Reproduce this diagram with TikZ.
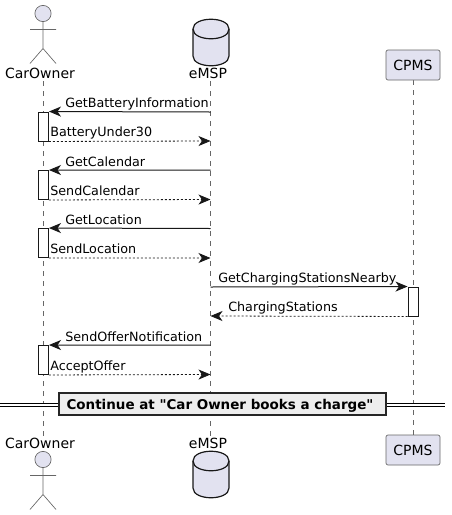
\documentclass[tikz,border=0pt]{standalone}
\usepackage{fontspec}
\usepackage{tikz}
\setmainfont{DejaVu Sans}
\newfontfamily\divfont{DejaVu Sans}
\usetikzlibrary{arrows.meta,shapes.geometric}
\definecolor{partfill}{HTML}{E2E2F0}
\definecolor{partline}{HTML}{181818}
\definecolor{lifeline}{HTML}{666666}
\definecolor{divfill}{HTML}{EEEEEE}
\tikzset{
	head node/.style={font=\fontsize{10.5pt}{12pt}\selectfont,inner sep=0pt,text=black},
	box node/.style={draw=lifeline,fill=partfill,rounded corners=1.5pt,line width=.5pt,minimum width=40.5pt,minimum height=22.5pt,inner sep=0pt,font=\fontsize{10.5pt}{12pt}\selectfont},
	act node/.style={draw=partline,fill=white,line width=.7pt,minimum width=7.5pt,inner sep=0pt},
	msg/.style={draw=partline,line width=.75pt,-{Stealth[length=9pt,width=7.5pt,inset=2.6pt]}},
	ret/.style={msg,line width=.6pt,dash pattern=on 1.5pt off 1.5pt},
	msg label/.style={font=\fontsize{9.55pt}{11pt}\selectfont,inner sep=0pt,anchor=base west,text=black},
	life/.style={draw=lifeline,line width=.4pt,dash pattern=on 3.75pt off 3.75pt},
}
\newcommand{\stickman}[2]{% x, head y
	\draw[draw=lifeline,fill=partfill,line width=.5pt] (#1,#2) circle (6.1pt);
	\draw[draw=lifeline,line width=.5pt] (#1,#2+8) -- (#1,#2+35)
	(#1-13,#2+16) -- (#1+13,#2+16)
	(#1-13,#2+50) -- (#1,#2+35) -- (#1+13,#2+50);
}
\newcommand{\dbcan}[2]{% x, top y
	\draw[draw=partline,fill=partfill,line width=.9pt] (#1-18,#2+10) .. controls (#1-18,#2-3) and (#1+18,#2-3) .. (#1+18,#2+10) -- (#1+18,#2+37) .. controls (#1+18,#2+50) and (#1-18,#2+50) .. (#1-18,#2+37) -- cycle;
	\draw[draw=partline,line width=.9pt] (#1-18,#2+10) .. controls (#1-18,#2+23) and (#1+18,#2+23) .. (#1+18,#2+10);
}
\begin{document}
\begin{tikzpicture}[x=.75pt,y=-.75pt]
	\useasboundingbox (0,0) rectangle (451,515);
	
	% lifelines
	\coordinate (ownertop) at (43,81);
	\coordinate (ownerbot) at (43,436);
	\coordinate (emsptop) at (210.5,81);
	\coordinate (emspbot) at (210.5,436);
	\coordinate (cpmstop) at (413,80);
	\coordinate (cpmsbot) at (413,435);
	\path[life] (ownertop) -- (ownerbot);
	\path[life] (emsptop) -- (emspbot);
	\path[life] (cpmstop) -- (cpmsbot);
	
	% heads and feet
	\stickman{43}{13.5}
	\node[head node] (owner1) at (40,73) {CarOwner};
	\dbcan{211}{19}
	\node[head node] (emsp1) at (208,73) {eMSP};
	\node[box node] (cpms1) at (413,65) {CPMS};
	\node[head node] (owner2) at (40,443) {CarOwner};
	\stickman{43}{459.5}
	\node[head node] (emsp2) at (208,443) {eMSP};
	\dbcan{211}{451}
	\node[box node] (cpms2) at (413,450) {CPMS};
	
	% activations
	\node[act node,minimum height=21.75pt] (act1) at (43.5,126.5) {};
	\node[act node,minimum height=21.75pt] (act2) at (43.5,185) {};
	\node[act node,minimum height=21.75pt] (act3) at (43.5,243) {};
	\node[act node,minimum height=21.75pt] (act4) at (413,301.5) {};
	\node[act node,minimum height=21.75pt] (act5) at (43.5,360) {};
	
	% points on the eMSP line
	\coordinate (e1) at (210.5,112);
	\coordinate (e2) at (210.5,141);
	\coordinate (e3) at (210.5,170);
	\coordinate (e4) at (210.5,199.5);
	\coordinate (e5) at (210.5,228.5);
	\coordinate (e6) at (210.5,258);
	\coordinate (e7) at (210.5,287);
	\coordinate (e8) at (210.5,316);
	\coordinate (e9) at (210.5,345);
	\coordinate (e10) at (210.5,374.5);
	
	% messages
	\draw[msg] (e1) -- (act1.north east);
	\draw[ret] (act1.south east) -- (e2);
	\draw[msg] (e3) -- (act2.north east);
	\draw[ret] (act2.south east) -- (e4);
	\draw[msg] (e5) -- (act3.north east);
	\draw[ret] (act3.south east) -- (e6);
	\draw[msg] (e7) -- (act4.north west);
	\draw[ret] (act4.south west) -- (e8);
	\draw[msg] (e9) -- (act5.north east);
	\draw[ret] (act5.south east) -- (e10);
	
	\node[msg label] (m1) at (65,107) {GetBatteryInformation};
	\node[msg label] (m2) at (50,136) {BatteryUnder30};
	\node[msg label] (m3) at (65,166) {GetCalendar};
	\node[msg label] (m4) at (50,195) {SendCalendar};
	\node[msg label] (m5) at (65,224) {GetLocation};
	\node[msg label] (m6) at (50,253) {SendLocation};
	\node[msg label] (m7) at (218,282) {GetChargingStationsNearby};
	\node[msg label] (m8) at (228,311) {ChargingStations};
	\node[msg label] (m9) at (65,341) {SendOfferNotification};
	\node[msg label] (m10) at (50,370) {AcceptOffer};
	
	% divider
	\coordinate (divleft) at (0,404.5);
	\coordinate (divright) at (445,404.5);
	\draw[double=white,double distance=1.5pt,draw=black,line width=.75pt] (divleft) -- (divright);
	\node[draw=black!85,fill=divfill,line width=1.4pt,minimum width=245pt,minimum height=16.5pt,inner sep=0pt,text height=8pt,text depth=.5pt,font=\divfont\fontsize{10.1pt}{11pt}\selectfont\bfseries] (cont) at (222.5,404) {Continue at "Car Owner books a charge"\hspace*{3.75pt}};
\end{tikzpicture}
\end{document}
